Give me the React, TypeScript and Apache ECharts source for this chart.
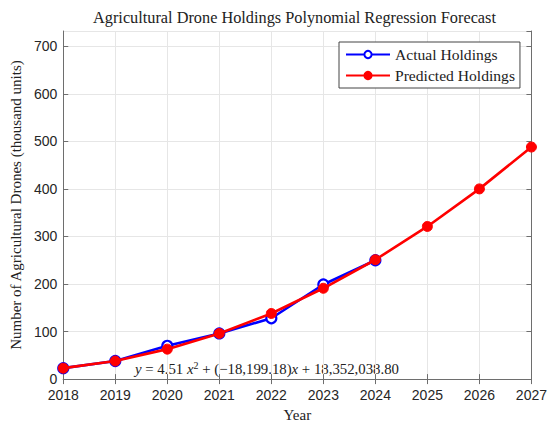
import React, { useEffect, useRef } from "react";
import * as echarts from "echarts";

const years = [2018, 2019, 2020, 2021, 2022, 2023, 2024, 2025, 2026, 2027];
const actualYears = [2018, 2019, 2020, 2021, 2022, 2023, 2024];
const actualValues = [23, 38, 70, 96, 128, 199, 250];
const predictedValues = [23, 38, 63, 96, 138, 191, 251, 321, 400, 488];
const yTicks = [0, 100, 200, 300, 400, 500, 600, 700];

const titleText = "Agricultural Drone Holdings Polynomial Regression Forecast";
const xName = "Year";
const yName = "Number of Agricultural Drones (thousand units)";
const seriesNames = ["Actual Holdings", "Predicted Holdings"];

const SERIF = "'Liberation Serif', 'Times New Roman', serif";
const SANS = "'Liberation Sans', Arial, sans-serif";

export default function App() {
  const ref = useRef<HTMLDivElement>(null);
  useEffect(() => {
    document.body.style.margin = "0";
    if (!ref.current) return;
    const chart = echarts.init(ref.current, null, { renderer: "svg" });
    const gridLeft = 57;
    const gridTop = 31;
    const gridW = 475;
    const gridH = 355;
    const axisLineStyle = { color: "#6e6e6e", width: 1 };
    const common = {
      type: "value" as const,
      axisLine: { show: true, lineStyle: axisLineStyle },
      axisTick: { show: true, inside: true, length: 5, lineStyle: axisLineStyle },
    };
    chart.setOption({
      animation: false,
      backgroundColor: "#ffffff",
      grid: { left: gridLeft, top: gridTop, width: gridW, height: gridH, containLabel: false },
      graphic: [
        {
          type: "text",
          x: gridLeft + gridW / 2,
          y: 17,
          style: {
            text: titleText,
            font: `16.3px ${SERIF}`,
            fill: "#222222",
            textAlign: "center",
            textVerticalAlign: "middle",
          },
        },
        {
          type: "text",
          x: 135,
          y: 369,
          style: {
            text: "{i|y} = 4.51 {i|x}{s|2} + (\u221218,199.18){i|x} + 18,352,038.80",
            font: `14.8px ${SERIF}`,
            fill: "#222222",
            textVerticalAlign: "middle",
            rich: {
              i: { fontStyle: "italic", fontFamily: SERIF, fontSize: 14.8, fill: "#222222" },
              s: { fontFamily: SERIF, fontSize: 10, fill: "#222222", verticalAlign: "bottom", padding: [0, 0, 8, 0] },
            },
          },
        },
      ],
      legend: {
        left: 339,
        top: 42,
        orient: "vertical",
        padding: [4, 5, 4, 6],
        itemGap: 4,
        itemWidth: 44,
        itemHeight: 9,
        borderColor: "#444444",
        borderWidth: 1,
        backgroundColor: "#ffffff",
        textStyle: { fontFamily: SERIF, fontSize: 15.6, color: "#222222", lineHeight: 17 },
        data: seriesNames,
      },
      xAxis: [
        {
          ...common,
          position: "bottom",
          min: 2018,
          max: 2027,
          interval: 1,
          name: xName,
          nameLocation: "middle",
          nameGap: 26,
          nameTextStyle: { fontFamily: SERIF, fontSize: 15, color: "#222222" },
          axisLabel: {
            margin: 9,
            fontFamily: SANS,
            fontSize: 14,
            color: "#262626",
            formatter: (v: number) => String(v),
          },
          splitLine: { show: true, lineStyle: { color: "#e6e6e6", width: 1 } },
        },
        {
          ...common,
          position: "top",
          min: 2018,
          max: 2027,
          interval: 1,
          axisLabel: { show: false },
          splitLine: { show: false },
        },
      ],
      yAxis: [
        {
          ...common,
          position: "left",
          min: 0,
          max: 732,
          interval: 100,
          name: yName,
          nameLocation: "middle",
          nameGap: 38,
          nameTextStyle: { fontFamily: SERIF, fontSize: 15, color: "#222222" },
          axisLabel: {
            margin: 6,
            fontFamily: SANS,
            fontSize: 14,
            color: "#262626",
            showMaxLabel: false,
            formatter: (v: number) => (yTicks.includes(v) ? String(v) : ""),
          },
          splitLine: { show: true, lineStyle: { color: "#e6e6e6", width: 1 } },
        },
        {
          ...common,
          position: "right",
          min: 0,
          max: 732,
          interval: 100,
          axisLabel: { show: false },
          splitLine: { show: false },
        },
      ],
      series: [
        {
          name: seriesNames[0],
          type: "line",
          xAxisIndex: 0,
          yAxisIndex: 0,
          data: actualYears.map((y, i) => [y, actualValues[i]]),
          symbol: "circle",
          symbolSize: 10,
          showAllSymbol: true,
          lineStyle: { color: "#0000ff", width: 2.6 },
          itemStyle: { color: "#ffffff", borderColor: "#0000ff", borderWidth: 2.2 },
          z: 2,
        },
        {
          name: seriesNames[1],
          type: "line",
          xAxisIndex: 0,
          yAxisIndex: 0,
          data: years.map((y, i) => [y, predictedValues[i]]),
          symbol: "circle",
          symbolSize: 10,
          showAllSymbol: true,
          lineStyle: { color: "#ff0000", width: 2.6 },
          itemStyle: { color: "#ff0000", borderColor: "#ff0000", borderWidth: 1 },
          z: 3,
        },
      ],
    });
    return () => chart.dispose();
  }, []);
  return <div ref={ref} style={{ width: 550, height: 427 }} />;
}
